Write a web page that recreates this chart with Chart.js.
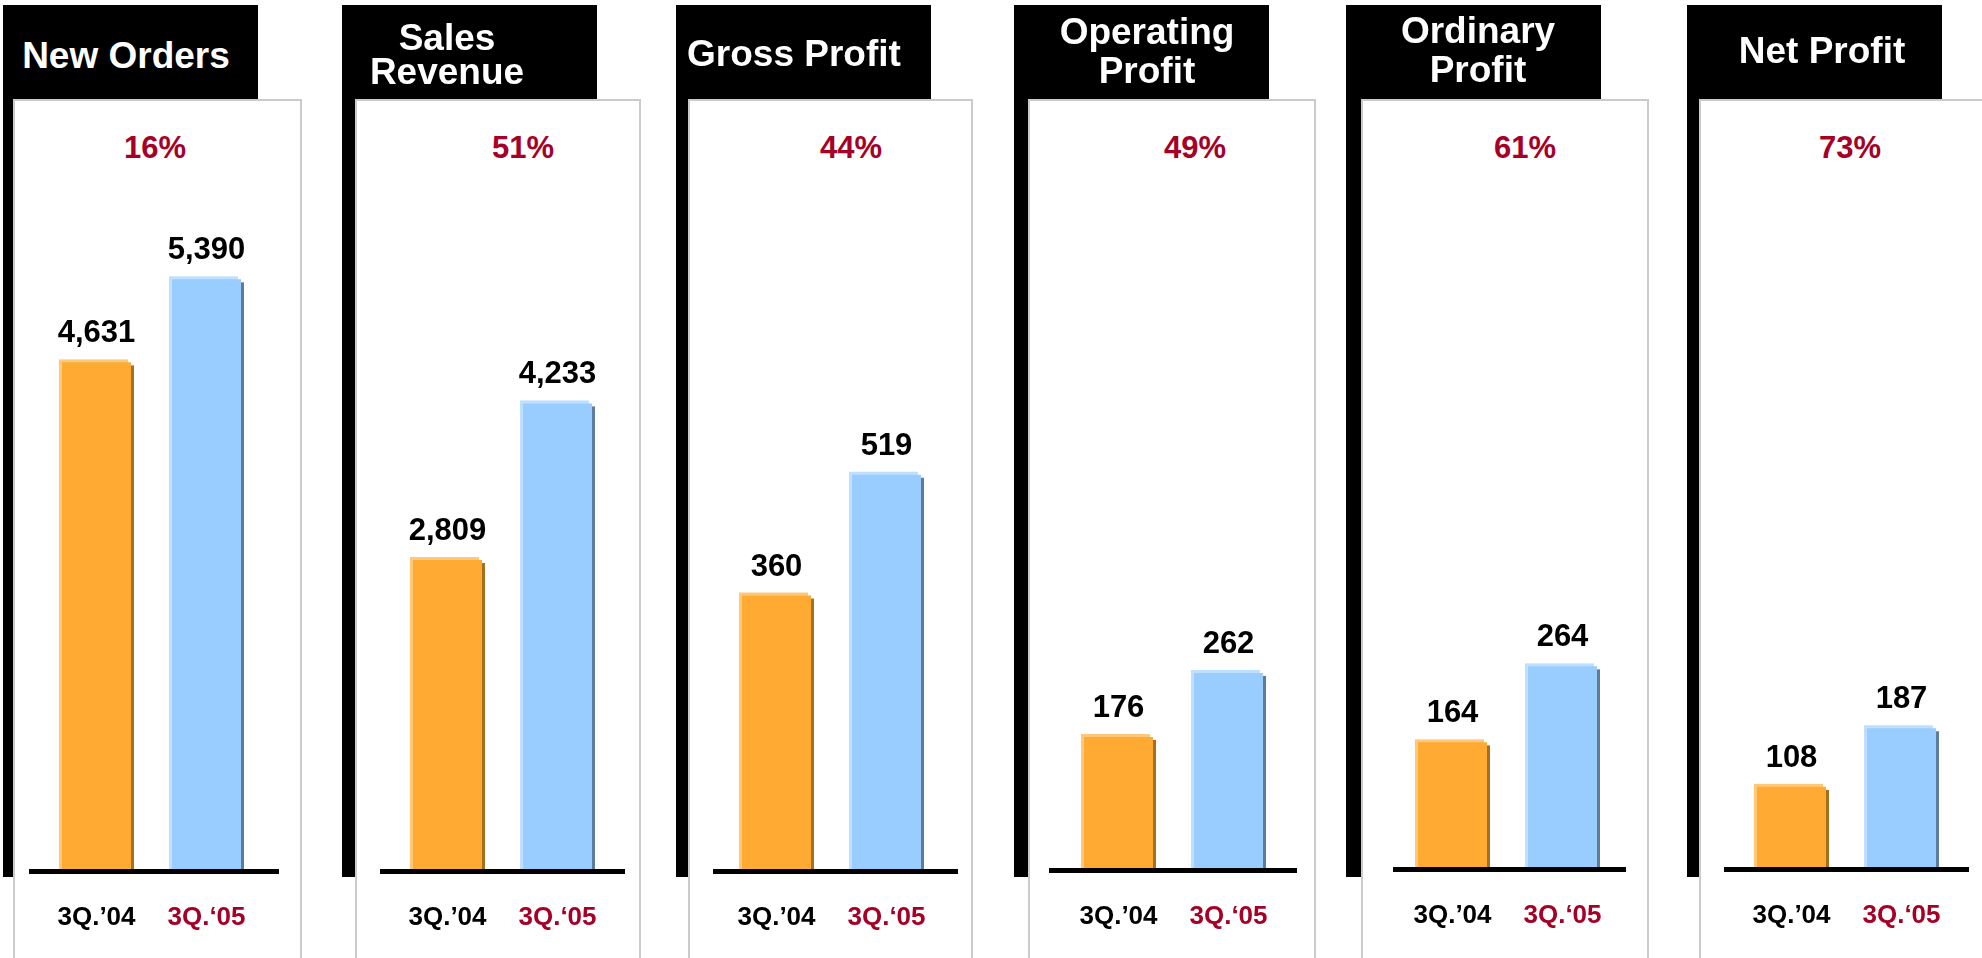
<!DOCTYPE html>
<html>
<head>
<meta charset="utf-8">
<title>3Q results</title>
<script src="https://cdn.jsdelivr.net/npm/chart.js@4.4.1/dist/chart.umd.min.js"></script>
<style>
  html, body { margin: 0; padding: 0; background: #fff; }
  body { width: 1982px; height: 958px; position: relative; overflow: hidden; font-family: "Liberation Sans", Arial, sans-serif; }
  .box, .bar, .tab, .title, .pct, canvas { position: absolute; }
  .box { background: #fff; border: 2px solid #cbcbcb; box-sizing: border-box; }
  .bar, .tab { background: #000; }
  .title { color: #fff; font-weight: bold; font-size: 37px; line-height: 37px; width: 400px; text-align: center; white-space: nowrap; }
  .pct { color: #a50026; font-weight: bold; font-size: 31px; line-height: 31px; width: 200px; text-align: center; }
</style>
</head>
<body>
<script>
// data
const categories = ['3Q.\u201904', '3Q.\u201805'];
const titles = [['New Orders'], ['Sales', 'Revenue'], ['Gross Profit'], ['Operating', 'Profit'], ['Ordinary', 'Profit'], ['Net Profit']];
const values04 = [4631, 2809, 360, 176, 164, 108];
const values05 = [5390, 4233, 519, 262, 264, 187];
const growth = ['16%', '51%', '44%', '49%', '61%', '73%'];

// colours
const RED = '#a50026';
const ORANGE = '#ffab33', ORANGE_LIGHT = '#ffc878', ORANGE_DARK = '#a67020';
const BLUE = '#99ccff', BLUE_LIGHT = '#bee0ff', BLUE_DARK = '#5e7c9c';

// panel layout (pixels)
const panels = [
  { left: 3,    barW: 10, boxRight: 302,  titleX: 126,  titleY: [68],     pctX: 155,  plotLeft: 38.5, base: 869, lineL: 12.5, lineR: 17.5, yMax: 6298 },
  { left: 342,  barW: 13, boxRight: 641,  titleX: 447,  titleY: [50, 84], pctX: 523,  plotLeft: 50.5, base: 869, lineL: 12.5, lineR: 12.5, yMax: 6264 },
  { left: 676,  barW: 12, boxRight: 973,  titleX: 794,  titleY: [66],     pctX: 851,  plotLeft: 45.5, base: 869, lineL: 8.5,  lineR: 16.5, yMax: 907 },
  { left: 1014, barW: 14, boxRight: 1316, titleX: 1147, titleY: [44, 83], pctX: 1195, plotLeft: 49.5, base: 868, lineL: 14.5, lineR: 13.5, yMax: 924 },
  { left: 1346, barW: 15, boxRight: 1649, titleX: 1478, titleY: [43, 82], pctX: 1525, plotLeft: 51.5, base: 867, lineL: 4.5,  lineR: 8.5,  yMax: 904 },
  { left: 1687, barW: 12, boxRight: 1987, titleX: 1822, titleY: [63],     pctX: 1850, plotLeft: 49.5, base: 867, lineL: 12.5, lineR: 12.5, yMax: 926 }
];

// height the x axis takes below the plot (label line + padding)
const AXIS_H = 97.2;

Chart.defaults.font.family = '"Liberation Sans", Arial, sans-serif';

// bars with a light edge top-left, a dark edge right, the baseline and the value labels
const barDepth = {
  id: 'barDepth',
  beforeDatasetsDraw(chart) {
    const ctx = chart.ctx;
    const meta = chart.getDatasetMeta(0);
    meta.data.forEach((el, i) => {
      const { x, y, width, base } = el.getProps(['x', 'y', 'width', 'base'], true);
      ctx.fillStyle = i === 0 ? ORANGE_LIGHT : BLUE_LIGHT;
      ctx.fillRect(x - width / 2 - 3, y - 3, width, base - y + 3);
      ctx.fillStyle = i === 0 ? ORANGE_DARK : BLUE_DARK;
      ctx.fillRect(x - width / 2 + 3, y + 3, width, base - y - 3);
    });
  },
  afterDatasetsDraw(chart, args, opts) {
    const ctx = chart.ctx;
    const area = chart.chartArea;
    ctx.save();
    ctx.fillStyle = '#000';
    ctx.fillRect(area.left - opts.lineL, area.bottom, area.width + opts.lineL + opts.lineR, 5);

    const meta = chart.getDatasetMeta(0);
    const data = chart.data.datasets[0].data;
    ctx.font = 'bold 31px "Liberation Sans", Arial, sans-serif';
    ctx.textAlign = 'center';
    ctx.textBaseline = 'alphabetic';
    meta.data.forEach((el, i) => {
      ctx.fillText(data[i].toLocaleString('en-US'), el.x, el.y - 20);
    });
    ctx.restore();
  }
};

function addDiv(cls, css, text) {
  const d = document.createElement('div');
  d.className = cls;
  Object.assign(d.style, css);
  if (text) d.textContent = text;
  document.body.appendChild(d);
  return d;
}

panels.forEach((p, i) => {
  addDiv('box', { left: (p.left + p.barW) + 'px', top: '99px', width: (p.boxRight - p.left - p.barW) + 'px', height: '900px' });
  addDiv('bar', { left: p.left + 'px', top: '5px', width: p.barW + 'px', height: '872px' });
  addDiv('tab', { left: p.left + 'px', top: '5px', width: '255px', height: '94px' });
  titles[i].forEach((line, k) => {
    addDiv('title', { left: (p.titleX - 200) + 'px', top: (p.titleY[k] - 31.3) + 'px' }, line);
  });
  addDiv('pct', { left: (p.pctX - 100) + 'px', top: '131.8px' }, growth[i]);

  const canvas = document.createElement('canvas');
  canvas.width = 300;
  canvas.height = 958;
  canvas.style.left = p.left + 'px';
  canvas.style.top = '0px';
  document.body.appendChild(canvas);

  new Chart(canvas, {
    type: 'bar',
    data: {
      labels: categories,
      datasets: [{
        data: [values04[i], values05[i]],
        backgroundColor: [ORANGE, BLUE],
        barPercentage: 69 / 110,
        categoryPercentage: 1
      }]
    },
    options: {
      responsive: false,
      animation: false,
      layout: { padding: { top: 180, left: p.plotLeft, right: 300 - p.plotLeft - 220, bottom: 958 - p.base - AXIS_H } },
      plugins: {
        legend: { display: false },
        tooltip: { enabled: false },
        barDepth: { lineL: p.lineL, lineR: p.lineR }
      },
      scales: {
        x: {
          grid: { display: false, drawTicks: false },
          border: { display: false },
          ticks: {
            padding: 33,
            font: { size: 26, weight: 'bold' },
            color: c => c.index === 1 ? RED : '#000'
          }
        },
        y: { display: false, min: 0, max: p.yMax }
      }
    },
    plugins: [barDepth]
  });
});
</script>
</body>
</html>
